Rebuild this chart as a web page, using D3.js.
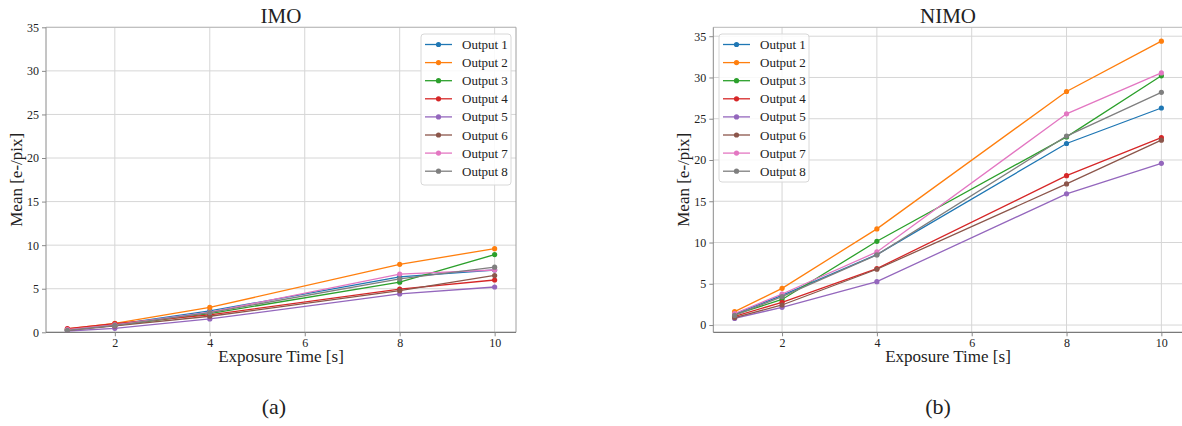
<!DOCTYPE html>
<html>
<head>
<meta charset="utf-8">
<script src="https://cdn.jsdelivr.net/npm/d3@7"></script>
<style>
  body { margin: 0; background: #fff; }
  svg { display: block; }
  svg text { font-family: "Liberation Serif", "DejaVu Serif", serif !important; fill: #222; }
</style>
</head>
<body>
<svg id="chart" width="1182" height="426"></svg>
<script>
// ---- data ----
const exposure = [1, 2, 4, 8, 10];
const seriesNames = ["Output 1", "Output 2", "Output 3", "Output 4", "Output 5", "Output 6", "Output 7", "Output 8"];
const xTicks = [2, 4, 6, 8, 10];
const yTicks = [0, 5, 10, 15, 20, 25, 30, 35];
const colors = ["#1f77b4", "#ff7f0e", "#2ca02c", "#d62728", "#9467bd", "#8c564b", "#e377c2", "#7f7f7f"];

// IMO (a)
const imoOut1 = [0.30, 0.88, 2.45, 6.35, 7.15];
const imoOut2 = [0.38, 1.03, 2.85, 7.80, 9.60];
const imoOut3 = [0.27, 0.77, 2.15, 5.75, 8.92];
const imoOut4 = [0.42, 1.00, 2.00, 4.95, 6.00];
const imoOut5 = [0.15, 0.46, 1.53, 4.40, 5.20];
const imoOut6 = [0.23, 0.73, 1.84, 4.78, 6.52];
const imoOut7 = [0.30, 0.85, 2.30, 6.68, 7.15];
const imoOut8 = [0.22, 0.80, 2.26, 6.13, 7.47];

// NIMO (b)
const nimoOut1 = [1.33, 3.60, 8.54, 22.0, 26.30];
const nimoOut2 = [1.62, 4.45, 11.65, 28.3, 34.40];
const nimoOut3 = [1.25, 3.10, 10.15, 22.8, 30.20];
const nimoOut4 = [1.05, 2.75, 6.84, 18.1, 22.70];
const nimoOut5 = [0.80, 2.15, 5.26, 15.9, 19.60];
const nimoOut6 = [0.90, 2.43, 6.76, 17.1, 22.40];
const nimoOut7 = [1.40, 3.76, 8.86, 25.6, 30.55];
const nimoOut8 = [1.17, 3.44, 8.50, 22.9, 28.20];

const imoSeries = [imoOut1, imoOut2, imoOut3, imoOut4, imoOut5, imoOut6, imoOut7, imoOut8];
const nimoSeries = [nimoOut1, nimoOut2, nimoOut3, nimoOut4, nimoOut5, nimoOut6, nimoOut7, nimoOut8];

const svg = d3.select("#chart");
const SERIF = "'Liberation Serif', 'DejaVu Serif', serif";

function drawPanel(cfg) {
  const { left, right, top, bottom, series, yDomain, title, caption, captionX, legendX, legendW, legendH } = cfg;
  const xMin = d3.min(exposure), xMax = d3.max(exposure);
  const xPad = (xMax - xMin) * 0.05;
  const x = d3.scaleLinear().domain([xMin - xPad, xMax + xPad]).range([left, right]);
  const y = d3.scaleLinear().domain(yDomain).range([bottom, top]);
  const g = svg.append("g");

  const clipId = "clip" + Math.round(left);
  svg.append("clipPath").attr("id", clipId).append("rect")
    .attr("x", left).attr("y", top).attr("width", right - left).attr("height", bottom - top);

  // grid
  g.append("g").selectAll("line").data(xTicks).join("line")
    .attr("x1", d => x(d)).attr("x2", d => x(d)).attr("y1", top).attr("y2", bottom)
    .attr("stroke", "#d6d6d6").attr("stroke-width", 1);
  g.append("g").selectAll("line").data(yTicks.filter(t => y(t) >= top - 0.5 && y(t) <= bottom + 0.5)).join("line")
    .attr("x1", left).attr("x2", right).attr("y1", d => y(d)).attr("y2", d => y(d))
    .attr("stroke", "#d6d6d6").attr("stroke-width", 1);

  // spines
  g.append("line").attr("x1", left).attr("x2", right).attr("y1", top).attr("y2", top).attr("stroke", "#b8b8b8");
  g.append("line").attr("x1", right).attr("x2", right).attr("y1", top).attr("y2", bottom).attr("stroke", "#a0a0a0");
  g.append("line").attr("x1", left).attr("x2", left).attr("y1", top).attr("y2", bottom).attr("stroke", "#8a8a8a");
  g.append("line").attr("x1", left).attr("x2", right).attr("y1", bottom).attr("y2", bottom).attr("stroke", "#7a7a7a").attr("stroke-width", 1.3);

  // axes via d3
  const xAxis = d3.axisBottom(x).tickValues(xTicks).tickSize(4).tickPadding(2).tickFormat(d3.format("d"));
  const yAxis = d3.axisLeft(y).tickValues(yTicks).tickSize(4).tickPadding(3).tickFormat(d3.format("d"));
  const gx = g.append("g").attr("transform", `translate(0,${bottom})`).call(xAxis);
  const gy = g.append("g").attr("transform", `translate(${left},0)`).call(yAxis);
  [gx, gy].forEach(a => {
    a.attr("font-family", SERIF).attr("font-size", 12);
    a.select(".domain").remove();
    a.selectAll(".tick line").attr("stroke", "#8a8a8a");
    a.selectAll(".tick text").style("font-family", SERIF).style("font-size", "12px").attr("fill", "#222");
  });

  // lines
  const line = d3.line().x((d, i) => x(exposure[i])).y(d => y(d));
  const plot = g.append("g").attr("clip-path", `url(#${clipId})`);
  series.forEach((vals, si) => {
    plot.append("path").datum(vals).attr("d", line)
      .attr("fill", "none").attr("stroke", colors[si]).attr("stroke-width", 1.3);
    plot.append("g").selectAll("circle").data(vals).join("circle")
      .attr("cx", (d, i) => x(exposure[i])).attr("cy", d => y(d)).attr("r", 2.6)
      .attr("fill", colors[si]);
  });

  // title
  g.append("text").attr("x", (left + right) / 2).attr("y", 23).attr("text-anchor", "middle")
    .style("font-size", "21px").text(title);
  // x label
  g.append("text").attr("x", (left + right) / 2).attr("y", 362).attr("text-anchor", "middle")
    .style("font-size", "17px").text("Exposure Time [s]");
  // y label
  g.append("text").attr("transform", `translate(${left - 24},${(top + bottom) / 2}) rotate(-90)`)
    .attr("text-anchor", "middle").style("font-size", "17px").text("Mean [e-/pix]");
  // caption
  g.append("text").attr("x", captionX).attr("y", 414).attr("text-anchor", "middle")
    .style("font-size", "22px").text(caption);

  // legend
  const lg = g.append("g");
  const ly = 34;
  lg.append("rect").attr("x", legendX).attr("y", ly).attr("width", legendW).attr("height", legendH)
    .attr("rx", 3).attr("fill", "#fff").attr("fill-opacity", 0.85).attr("stroke", "#d8d8d8");
  seriesNames.forEach((name, i) => {
    const yy = ly + 10.5 + i * 18.1;
    lg.append("line").attr("x1", legendX + 4).attr("x2", legendX + 31).attr("y1", yy).attr("y2", yy)
      .attr("stroke", colors[i]).attr("stroke-width", 1.3);
    lg.append("circle").attr("cx", legendX + 17.5).attr("cy", yy).attr("r", 2.6).attr("fill", colors[i]);
    lg.append("text").attr("x", legendX + 41).attr("y", yy).attr("dy", "0.35em")
      .style("font-size", "13px").text(name);
  });
}

// Panel (a): IMO — y fixed 0..35
drawPanel({
  left: 46, right: 516, top: 27.3, bottom: 332.3,
  series: imoSeries, yDomain: [0, 35], title: "IMO", caption: "(a)", captionX: 274,
  legendX: 421, legendW: 90, legendH: 151
});

// Panel (b): NIMO — auto margins
const allN = nimoSeries.flat();
const nMin = d3.min(allN), nMax = d3.max(allN), nPad = (nMax - nMin) * 0.05;
drawPanel({
  left: 713.3, right: 1182.7, top: 27.3, bottom: 332.3,
  series: nimoSeries, yDomain: [nMin - nPad, nMax + nPad], title: "NIMO", caption: "(b)", captionX: 938,
  legendX: 719, legendW: 90, legendH: 148
});
</script>
</body>
</html>
